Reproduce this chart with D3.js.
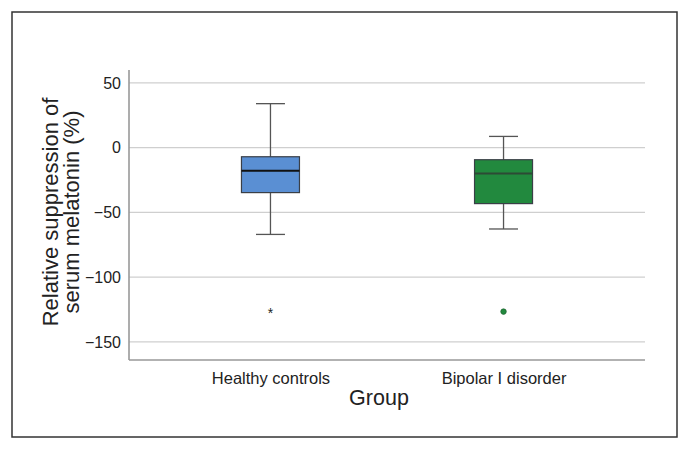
<!DOCTYPE html>
<html>
<head>
<meta charset="utf-8">
<script src="https://cdn.jsdelivr.net/npm/d3@7"></script>
<style>
  html, body { margin: 0; padding: 0; background: #fff; }
  svg { display: block; }
  text { font-family: "Liberation Sans", Arial, sans-serif; fill: #222; }
</style>
</head>
<body>
<div id="chart"></div>
<script>
// ---- data ----
const groups = ["Healthy controls", "Bipolar I disorder"];
const whiskerHigh = [34, 8.7];
const q3 = [-7, -9.3];
const median = [-17.8, -20];
const q1 = [-34.7, -43.2];
const whiskerLow = [-67, -62.8];
const outliers = [-126, -126.6];
const outlierSymbols = ["star", "dot"];
const fills = ["#5a8fd3", "#22893e"];
const medianColors = ["#111111", "#2d4a35"];
const yTicks = [50, 0, -50, -100, -150];
const yTickLabels = ["50", "0", "\u221250", "\u2212100", "\u2212150"];
const yTitleLines = ["Relative suppression of", "serum melatonin (%)"];
const xTitle = "Group";

// ---- layout ----
const W = 690, H = 451;
const mLeft = 129, mRight = 645, mTop = 70, mBottom = 360;

const svg = d3.select("#chart").append("svg").attr("width", W).attr("height", H);

// outer frame
svg.append("rect").attr("x", 12).attr("y", 12).attr("width", 665).attr("height", 425)
  .attr("fill", "none").attr("stroke", "#333").attr("stroke-width", 1.5);

const y = d3.scaleLinear().domain([-164, 60]).range([mBottom, mTop]);
const x = d3.scalePoint().domain(groups).range([mLeft, mRight]).padding(0.607);

// gridlines
svg.append("g").selectAll("line").data(yTicks).join("line")
  .attr("x1", mLeft).attr("x2", mRight)
  .attr("y1", d => y(d)).attr("y2", d => y(d))
  .attr("stroke", "#cfcfcf").attr("stroke-width", 1.2);

// y axis
const yAxis = svg.append("g").attr("transform", `translate(${mLeft},0)`)
  .call(d3.axisLeft(y).tickValues(yTicks).tickSize(0).tickPadding(8)
    .tickFormat((d, i) => yTickLabels[i]));
yAxis.select(".domain").remove();
yAxis.selectAll("text").style("font-size", "16px").attr("fill", "#222")
  .style("font-family", "'Liberation Sans', Arial, sans-serif");

// x axis
const xAxis = svg.append("g").attr("transform", `translate(0,${mBottom})`)
  .call(d3.axisBottom(x).tickSize(0).tickPadding(12));
xAxis.select(".domain").remove();
xAxis.selectAll("text").style("font-size", "16.5px").attr("fill", "#222")
  .style("font-family", "'Liberation Sans', Arial, sans-serif");

// axis lines
svg.append("line").attr("x1", mLeft).attr("x2", mLeft).attr("y1", mTop).attr("y2", mBottom)
  .attr("stroke", "#999").attr("stroke-width", 1.6);
svg.append("line").attr("x1", mLeft).attr("x2", mRight).attr("y1", mBottom).attr("y2", mBottom)
  .attr("stroke", "#999").attr("stroke-width", 1.6);

// titles
const yt = svg.append("text")
  .attr("transform", `translate(57.5,212) rotate(-90)`)
  .attr("text-anchor", "middle").style("font-size", "22px");
yTitleLines.forEach((t, i) => {
  yt.append("tspan").attr("x", 0).attr("dy", i === 0 ? 0 : 21).text(t);
});
svg.append("text").attr("x", 379).attr("y", 405).attr("text-anchor", "middle")
  .style("font-size", "21.5px").text(xTitle);

// boxes
const boxW = 58, capW = 29;
const data = groups.map((g, i) => ({
  g, hi: whiskerHigh[i], q3: q3[i], med: median[i], q1: q1[i], lo: whiskerLow[i],
  out: outliers[i], sym: outlierSymbols[i], fill: fills[i], mc: medianColors[i]
}));

const bx = svg.append("g").selectAll("g").data(data).join("g")
  .attr("transform", d => `translate(${x(d.g)},0)`);

bx.append("line").attr("x1", 0).attr("x2", 0)
  .attr("y1", d => y(d.hi)).attr("y2", d => y(d.lo))
  .attr("stroke", "#555").attr("stroke-width", 1.3);
bx.append("line").attr("x1", -capW / 2).attr("x2", capW / 2)
  .attr("y1", d => y(d.hi)).attr("y2", d => y(d.hi))
  .attr("stroke", "#555").attr("stroke-width", 1.3);
bx.append("line").attr("x1", -capW / 2).attr("x2", capW / 2)
  .attr("y1", d => y(d.lo)).attr("y2", d => y(d.lo))
  .attr("stroke", "#555").attr("stroke-width", 1.3);
bx.append("rect").attr("x", -boxW / 2).attr("width", boxW)
  .attr("y", d => y(d.q3)).attr("height", d => y(d.q1) - y(d.q3))
  .attr("fill", d => d.fill).attr("stroke", "#3a3f47").attr("stroke-width", 1.2);
bx.append("line").attr("x1", -boxW / 2).attr("x2", boxW / 2)
  .attr("y1", d => y(d.med)).attr("y2", d => y(d.med))
  .attr("stroke", d => d.mc).attr("stroke-width", 2);

// outliers
bx.filter(d => d.sym === "star").append("text")
  .attr("x", 0).attr("y", d => y(d.out) + 7).attr("text-anchor", "middle")
  .style("font-size", "14px").text("*");
bx.filter(d => d.sym === "dot").append("circle")
  .attr("cx", 0).attr("cy", d => y(d.out)).attr("r", 2.8)
  .attr("fill", d => d.fill).attr("stroke", "#1b5a2a").attr("stroke-width", 0.6);
</script>
</body>
</html>
